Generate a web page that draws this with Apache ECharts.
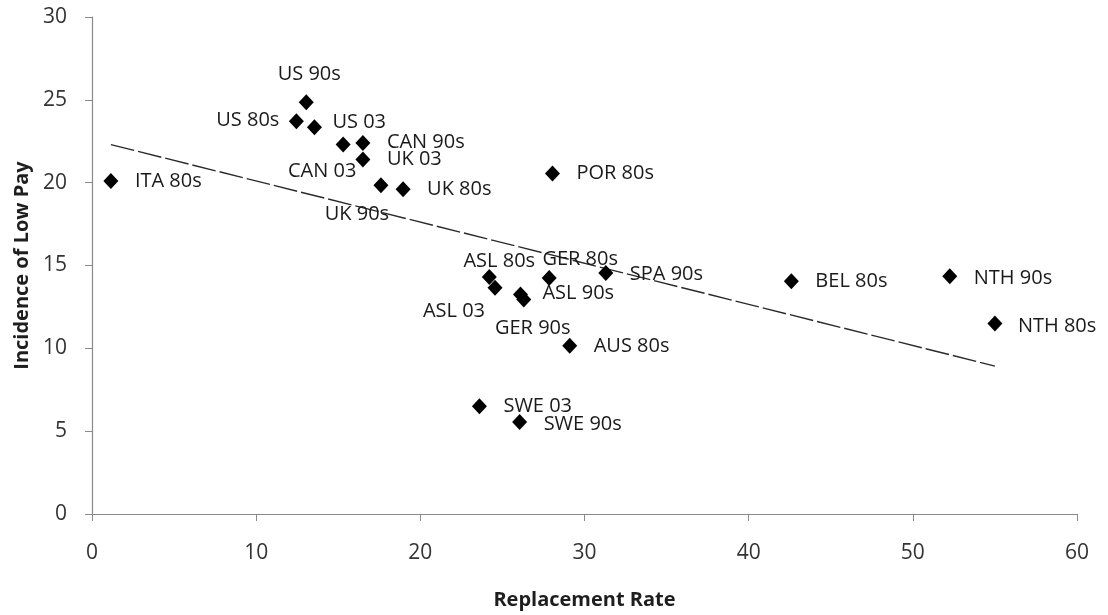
<!DOCTYPE html>
<html>
<head>
<meta charset="utf-8">
<script src="https://cdn.jsdelivr.net/npm/echarts@6/dist/echarts.min.js"></script>
<style>
  html, body { margin: 0; padding: 0; background: #fff; }
  #chart { width: 1108px; height: 615px; }
</style>
</head>
<body>
<div id="chart"></div>
<script>
// Country-period observations
const names = [
  'ITA 80s', 'US 90s', 'US 80s', 'US 03', 'CAN 03', 'CAN 90s', 'UK 03', 'UK 90s',
  'UK 80s', 'POR 80s', 'ASL 80s', 'ASL 03', 'ASL 90s', 'GER 90s', 'GER 80s',
  'SPA 90s', 'AUS 80s', 'SWE 03', 'SWE 90s', 'BEL 80s', 'NTH 90s', 'NTH 80s'
];
const replacementRate = [
  1.15, 13.05, 12.45, 13.55, 15.3, 16.5, 16.5, 17.6,
  18.95, 28.05, 24.2, 24.55, 26.1, 26.3, 27.85,
  31.3, 29.1, 23.6, 26.05, 42.6, 52.25, 55.0
];
const lowPayIncidence = [
  20.1, 24.85, 23.7, 23.35, 22.3, 22.4, 21.4, 19.85,
  19.6, 20.55, 14.3, 13.65, 13.25, 12.95, 14.25,
  14.55, 10.15, 6.5, 5.55, 14.05, 14.35, 11.5
];

// Fitted trend line end points
const trendX = [1.15, 55.0];
const trendY = [22.3, 8.93];

const xTicks = [0, 10, 20, 30, 40, 50, 60];
const yTicks = [0, 5, 10, 15, 20, 25, 30];

// Where each label sits relative to its marker centre: [align, dx, dy]
const labelPlacement = {
  'US 90s':  ['center', 3, -28],
  'US 80s':  ['right', -17, -1],
  'US 03':   ['left', 18, -5],
  'CAN 03':  ['center', -21, 27],
  'CAN 90s': ['left', 24, -1],
  'UK 03':   ['left', 24, 0],
  'UK 90s':  ['center', -24, 29],
  'ASL 80s': ['center', 10, -16],
  'GER 80s': ['center', 31, -19],
  'ASL 90s': ['left', 22, -1],
  'ASL 03':  ['right', -10, 23],
  'GER 90s': ['center', 9, 29],
  'SPA 90s': ['left', 24, 1],
  'SWE 90s': ['left', 24, 2],
  'NTH 90s': ['left', 24, 2],
  'NTH 80s': ['left', 23, 3]
};
const defaultPlacement = ['left', 24, 0];

const points = names.map((n, i) => ({
  name: n,
  value: [replacementRate[i], lowPayIncidence[i]]
}));

const chart = echarts.init(document.getElementById('chart'));
const font = 'Open Sans';

chart.setOption({
  animation: false,
  backgroundColor: '#ffffff',
  grid: { left: 92, right: 31, top: 17, bottom: 101 },
  xAxis: {
    type: 'value',
    min: xTicks[0],
    max: xTicks[xTicks.length - 1],
    interval: xTicks[1] - xTicks[0],
    name: 'Replacement Rate',
    nameLocation: 'middle',
    nameGap: 76,
    nameTextStyle: { fontFamily: font, fontSize: 20, fontWeight: 'bold', color: '#1e1e1e' },
    axisLine: { show: true, lineStyle: { color: '#8a8a8a', width: 1.2 } },
    axisTick: { show: true, length: 7, lineStyle: { color: '#8a8a8a' } },
    axisLabel: { fontFamily: font, fontSize: 21, color: '#333', margin: 29 },
    splitLine: { show: false }
  },
  yAxis: {
    type: 'value',
    min: yTicks[0],
    max: yTicks[yTicks.length - 1],
    interval: yTicks[1] - yTicks[0],
    name: 'Incidence of Low Pay',
    nameLocation: 'middle',
    nameGap: 56,
    nameTextStyle: { fontFamily: font, fontSize: 20, fontWeight: 'bold', color: '#1e1e1e' },
    axisLine: { show: true, lineStyle: { color: '#8a8a8a', width: 1.2 } },
    axisTick: { show: true, length: 7, lineStyle: { color: '#8a8a8a' } },
    axisLabel: { fontFamily: font, fontSize: 21, color: '#333', margin: 25 },
    splitLine: { show: false }
  },
  series: [
    {
      type: 'line',
      data: trendX.map((x, i) => [x, trendY[i]]),
      showSymbol: false,
      symbol: 'none',
      silent: true,
      z: 1,
      lineStyle: { color: '#2a2a2a', width: 1.4, type: [24, 4] }
    },
    {
      type: 'scatter',
      data: points,
      symbol: 'diamond',
      symbolSize: [15, 16],
      itemStyle: { color: '#000', opacity: 1 },
      z: 3,
      label: {
        show: true,
        position: 'inside',
        formatter: '{b}',
        fontFamily: font,
        fontSize: 20,
        color: '#1a1a1a'
      },
      labelLayout: function (params) {
        const p = labelPlacement[names[params.dataIndex]] || defaultPlacement;
        const r = params.rect;
        return {
          x: r.x + r.width / 2 + p[1],
          y: r.y + r.height / 2 + p[2],
          align: p[0],
          verticalAlign: 'middle',
          hideOverlap: false
        };
      }
    }
  ]
});
</script>
</body>
</html>
